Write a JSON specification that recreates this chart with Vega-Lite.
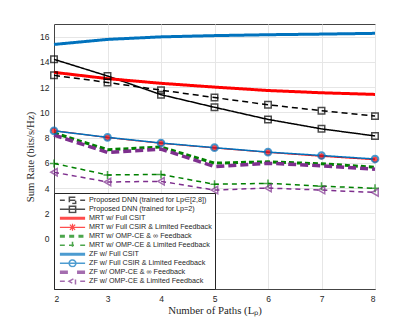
{
  "$schema": "https://vega.github.io/schema/vega-lite/v6.json",
  "width": 321,
  "height": 265,
  "autosize": {"type": "none"},
  "padding": {"left": 54, "top": 24, "right": 40, "bottom": 36},
  "config": {
    "view": {"stroke": "#444444", "strokeWidth": 1},
    "axis": {
      "domainColor": "#444444",
      "gridColor": "#e6e6e6",
      "ticks": false,
      "labelColor": "#262626",
      "labelFont": "Liberation Sans",
      "labelFontSize": 8.5,
      "titleFont": "Liberation Serif",
      "titleFontWeight": "normal",
      "titleFontSize": 10.8,
      "titleColor": "#262626"
    },
    "legend": {
      "orient": "bottom-left",
      "offset": 0,
      "padding": 3,
      "strokeColor": "#262626",
      "fillColor": "white",
      "labelFont": "Liberation Sans",
      "labelFontSize": 7.2,
      "labelColor": "#262626",
      "labelLimit": 300,
      "symbolSize": 49,
      "symbolOffset": 10,
      "labelOffset": 11,
      "rowPadding": 0,
      "clipHeight": 8.6,
      "title": null
    }
  },
  "data": {
    "values": [
      {"s": "Proposed DNN (trained for Lp∈[2,8])", "x": 2, "y": 12.93},
      {"s": "Proposed DNN (trained for Lp∈[2,8])", "x": 3, "y": 12.37},
      {"s": "Proposed DNN (trained for Lp∈[2,8])", "x": 4, "y": 11.76},
      {"s": "Proposed DNN (trained for Lp∈[2,8])", "x": 5, "y": 11.17},
      {"s": "Proposed DNN (trained for Lp∈[2,8])", "x": 6, "y": 10.6},
      {"s": "Proposed DNN (trained for Lp∈[2,8])", "x": 7, "y": 10.13},
      {"s": "Proposed DNN (trained for Lp∈[2,8])", "x": 8, "y": 9.7},
      {"s": "Proposed DNN (trained for Lp=2)", "x": 2, "y": 14.2},
      {"s": "Proposed DNN (trained for Lp=2)", "x": 3, "y": 12.88},
      {"s": "Proposed DNN (trained for Lp=2)", "x": 4, "y": 11.4},
      {"s": "Proposed DNN (trained for Lp=2)", "x": 5, "y": 10.4},
      {"s": "Proposed DNN (trained for Lp=2)", "x": 6, "y": 9.44},
      {"s": "Proposed DNN (trained for Lp=2)", "x": 7, "y": 8.69},
      {"s": "Proposed DNN (trained for Lp=2)", "x": 8, "y": 8.13},
      {"s": "MRT w/ Full CSIT", "x": 2, "y": 13.17},
      {"s": "MRT w/ Full CSIT", "x": 3, "y": 12.67},
      {"s": "MRT w/ Full CSIT", "x": 4, "y": 12.3},
      {"s": "MRT w/ Full CSIT", "x": 5, "y": 12.0},
      {"s": "MRT w/ Full CSIT", "x": 6, "y": 11.73},
      {"s": "MRT w/ Full CSIT", "x": 7, "y": 11.55},
      {"s": "MRT w/ Full CSIT", "x": 8, "y": 11.42},
      {"s": "MRT w/ Full CSIR & Limited Feedback", "x": 2, "y": 8.55},
      {"s": "MRT w/ Full CSIR & Limited Feedback", "x": 3, "y": 8.0},
      {"s": "MRT w/ Full CSIR & Limited Feedback", "x": 4, "y": 7.55},
      {"s": "MRT w/ Full CSIR & Limited Feedback", "x": 5, "y": 7.18},
      {"s": "MRT w/ Full CSIR & Limited Feedback", "x": 6, "y": 6.83},
      {"s": "MRT w/ Full CSIR & Limited Feedback", "x": 7, "y": 6.52},
      {"s": "MRT w/ Full CSIR & Limited Feedback", "x": 8, "y": 6.25},
      {"s": "MRT w/ OMP-CE & ∞ Feedback", "x": 2, "y": 8.37},
      {"s": "MRT w/ OMP-CE & ∞ Feedback", "x": 3, "y": 7.04},
      {"s": "MRT w/ OMP-CE & ∞ Feedback", "x": 4, "y": 7.25},
      {"s": "MRT w/ OMP-CE & ∞ Feedback", "x": 5, "y": 5.97},
      {"s": "MRT w/ OMP-CE & ∞ Feedback", "x": 6, "y": 6.08},
      {"s": "MRT w/ OMP-CE & ∞ Feedback", "x": 7, "y": 5.92},
      {"s": "MRT w/ OMP-CE & ∞ Feedback", "x": 8, "y": 5.65},
      {"s": "MRT w/ OMP-CE & Limited Feedback", "x": 2, "y": 5.95},
      {"s": "MRT w/ OMP-CE & Limited Feedback", "x": 3, "y": 5.04},
      {"s": "MRT w/ OMP-CE & Limited Feedback", "x": 4, "y": 5.08},
      {"s": "MRT w/ OMP-CE & Limited Feedback", "x": 5, "y": 4.3},
      {"s": "MRT w/ OMP-CE & Limited Feedback", "x": 6, "y": 4.37},
      {"s": "MRT w/ OMP-CE & Limited Feedback", "x": 7, "y": 4.15},
      {"s": "MRT w/ OMP-CE & Limited Feedback", "x": 8, "y": 3.98},
      {"s": "ZF w/ Full CSIT", "x": 2, "y": 15.38},
      {"s": "ZF w/ Full CSIT", "x": 3, "y": 15.78},
      {"s": "ZF w/ Full CSIT", "x": 4, "y": 15.98},
      {"s": "ZF w/ Full CSIT", "x": 5, "y": 16.08},
      {"s": "ZF w/ Full CSIT", "x": 6, "y": 16.15},
      {"s": "ZF w/ Full CSIT", "x": 7, "y": 16.2},
      {"s": "ZF w/ Full CSIT", "x": 8, "y": 16.26},
      {"s": "ZF w/ Full CSIR & Limited Feedback", "x": 2, "y": 8.53},
      {"s": "ZF w/ Full CSIR & Limited Feedback", "x": 3, "y": 8.02},
      {"s": "ZF w/ Full CSIR & Limited Feedback", "x": 4, "y": 7.57},
      {"s": "ZF w/ Full CSIR & Limited Feedback", "x": 5, "y": 7.2},
      {"s": "ZF w/ Full CSIR & Limited Feedback", "x": 6, "y": 6.85},
      {"s": "ZF w/ Full CSIR & Limited Feedback", "x": 7, "y": 6.58},
      {"s": "ZF w/ Full CSIR & Limited Feedback", "x": 8, "y": 6.3},
      {"s": "ZF w/ OMP-CE & ∞ Feedback", "x": 2, "y": 8.2},
      {"s": "ZF w/ OMP-CE & ∞ Feedback", "x": 3, "y": 6.82},
      {"s": "ZF w/ OMP-CE & ∞ Feedback", "x": 4, "y": 7.09},
      {"s": "ZF w/ OMP-CE & ∞ Feedback", "x": 5, "y": 5.7},
      {"s": "ZF w/ OMP-CE & ∞ Feedback", "x": 6, "y": 5.97},
      {"s": "ZF w/ OMP-CE & ∞ Feedback", "x": 7, "y": 5.76},
      {"s": "ZF w/ OMP-CE & ∞ Feedback", "x": 8, "y": 5.49},
      {"s": "ZF w/ OMP-CE & Limited Feedback", "x": 2, "y": 5.25},
      {"s": "ZF w/ OMP-CE & Limited Feedback", "x": 3, "y": 4.48},
      {"s": "ZF w/ OMP-CE & Limited Feedback", "x": 4, "y": 4.53},
      {"s": "ZF w/ OMP-CE & Limited Feedback", "x": 5, "y": 3.84},
      {"s": "ZF w/ OMP-CE & Limited Feedback", "x": 6, "y": 4.0},
      {"s": "ZF w/ OMP-CE & Limited Feedback", "x": 7, "y": 3.84},
      {"s": "ZF w/ OMP-CE & Limited Feedback", "x": 8, "y": 3.65}
    ]
  },
  "encoding": {
    "x": {
      "field": "x", "type": "quantitative",
      "scale": {"domain": [2, 8], "nice": false},
      "axis": {"values": [2, 3, 4, 5, 6, 7, 8], "title": "Number of Paths (Lₚ)", "labelPadding": 5, "titlePadding": 2, "grid": true}
    },
    "y": {
      "field": "y", "type": "quantitative",
      "scale": {"domain": [-4, 17], "nice": false, "zero": false},
      "axis": {"values": [0, 2, 4, 6, 8, 10, 12, 14, 16], "title": "Sum Rate (bits/s/Hz)", "labelPadding": 5, "titlePadding": 4, "grid": true}
    },
    "color": {
      "field": "s", "type": "nominal",
      "scale": {
        "domain": ["Proposed DNN (trained for Lp∈[2,8])", "Proposed DNN (trained for Lp=2)", "MRT w/ Full CSIT", "MRT w/ Full CSIR & Limited Feedback", "MRT w/ OMP-CE & ∞ Feedback", "MRT w/ OMP-CE & Limited Feedback", "ZF w/ Full CSIT", "ZF w/ Full CSIR & Limited Feedback", "ZF w/ OMP-CE & ∞ Feedback", "ZF w/ OMP-CE & Limited Feedback"],
        "range": ["#000000", "#000000", "#ff0000", "#ff0000", "#008000", "#008000", "#0072bd", "#0072bd", "#7e2f8e", "#7e2f8e"]
      }
    },
    "strokeWidth": {
      "field": "s", "type": "nominal",
      "scale": {
        "type": "ordinal",
        "domain": ["Proposed DNN (trained for Lp∈[2,8])", "Proposed DNN (trained for Lp=2)", "MRT w/ Full CSIT", "MRT w/ Full CSIR & Limited Feedback", "MRT w/ OMP-CE & ∞ Feedback", "MRT w/ OMP-CE & Limited Feedback", "ZF w/ Full CSIT", "ZF w/ Full CSIR & Limited Feedback", "ZF w/ OMP-CE & ∞ Feedback", "ZF w/ OMP-CE & Limited Feedback"],
        "range": [1.5, 1.5, 3, 1.2, 3, 1.5, 3, 1.5, 3.5, 1.5]
      }
    }
  },
  "layer": [
    {
      "transform": [{"filter": "datum.x > 100"}],
      "mark": {"type": "point", "filled": false, "size": 49},
      "encoding": {
        "color": {"field": "s", "type": "nominal", "legend": {"orient": "bottom-left"}},
        "strokeWidth": {"field": "s", "type": "nominal", "legend": {"orient": "bottom-left"}},
        "shape": {
          "field": "s", "type": "nominal",
          "legend": {"orient": "bottom-left"},
          "scale": {
            "domain": ["Proposed DNN (trained for Lp∈[2,8])", "Proposed DNN (trained for Lp=2)", "MRT w/ Full CSIT", "MRT w/ Full CSIR & Limited Feedback", "MRT w/ OMP-CE & ∞ Feedback", "MRT w/ OMP-CE & Limited Feedback", "ZF w/ Full CSIT", "ZF w/ Full CSIR & Limited Feedback", "ZF w/ OMP-CE & ∞ Feedback", "ZF w/ OMP-CE & Limited Feedback"],
            "range": [
              "M-3.6,0H-2.2M-0.9,0H0.9M2.2,0H3.6M-0.9,-0.9H0.9V0.9H-0.9Z",
              "M-3.6,0H3.6M-0.9,-0.9H0.9V0.9H-0.9Z",
              "M-3.6,0H3.6",
              "M-3.6,0H3.6M0,-1V1M-0.75,-0.75L0.75,0.75M-0.75,0.75L0.75,-0.75",
              "M-3.6,0H-1.7M-0.95,0H0.95M1.7,0H3.6",
              "M-3.6,0H-2.2M-1,0H1M0,-1V1M2.2,0H3.6",
              "M-3.6,0H3.6",
              "M-3.6,0H3.6M-0.95,0A0.95,0.95 0 1,0 0.95,0A0.95,0.95 0 1,0 -0.95,0",
              "M-3.6,0H-1.3M1.3,0H3.6",
              "M-3.6,0H-2.2M-1,0L0.85,-1L0.85,1ZM2.2,0H3.6"
            ]
          }
        }
      }
    },
    {
      "mark": {"type": "line", "strokeCap": "butt"},
      "encoding": {
        "color": {"field": "s", "type": "nominal", "legend": null},
        "strokeWidth": {"field": "s", "type": "nominal", "legend": null},
        "strokeDash": {
          "field": "s", "type": "nominal", "legend": null,
          "scale": {
            "domain": ["Proposed DNN (trained for Lp∈[2,8])", "Proposed DNN (trained for Lp=2)", "MRT w/ Full CSIT", "MRT w/ Full CSIR & Limited Feedback", "MRT w/ OMP-CE & ∞ Feedback", "MRT w/ OMP-CE & Limited Feedback", "ZF w/ Full CSIT", "ZF w/ Full CSIR & Limited Feedback", "ZF w/ OMP-CE & ∞ Feedback", "ZF w/ OMP-CE & Limited Feedback"],
            "range": [[6, 4], [1, 0], [1, 0], [1, 0], [5, 3], [5, 4], [1, 0], [1, 0], [8, 4], [5, 4]]
          }
        }
      }
    },
    {
      "transform": [{"filter": "indexof(datum.s, 'Proposed DNN') == 0"}],
      "mark": {"type": "point", "shape": "square", "filled": false, "size": 42},
      "encoding": {"color": {"field": "s", "type": "nominal", "legend": null}, "strokeWidth": {"value": 1.5}}
    },
    {
      "transform": [{"filter": "datum.s == 'MRT w/ Full CSIR & Limited Feedback'"}],
      "mark": {"type": "point", "shape": "M-1,0H1M0,-1V1M-0.7,-0.7L0.7,0.7M-0.7,0.7L0.7,-0.7", "filled": false, "size": 40},
      "encoding": {"color": {"field": "s", "type": "nominal", "legend": null}, "strokeWidth": {"value": 1.8}}
    },
    {
      "transform": [{"filter": "datum.s == 'MRT w/ OMP-CE & Limited Feedback'"}],
      "mark": {"type": "point", "shape": "M-1,0H1M0,-1V1", "filled": false, "size": 64},
      "encoding": {"color": {"field": "s", "type": "nominal", "legend": null}, "strokeWidth": {"value": 1.5}}
    },
    {
      "transform": [{"filter": "datum.s == 'ZF w/ Full CSIR & Limited Feedback'"}],
      "mark": {"type": "point", "shape": "circle", "filled": false, "size": 45},
      "encoding": {"color": {"field": "s", "type": "nominal", "legend": null}, "strokeWidth": {"value": 2}}
    },
    {
      "transform": [{"filter": "datum.s == 'ZF w/ OMP-CE & Limited Feedback'"}],
      "mark": {"type": "point", "shape": "triangle-left", "filled": false, "size": 55},
      "encoding": {"color": {"field": "s", "type": "nominal", "legend": null}, "strokeWidth": {"value": 1.5}}
    }
  ]
}
